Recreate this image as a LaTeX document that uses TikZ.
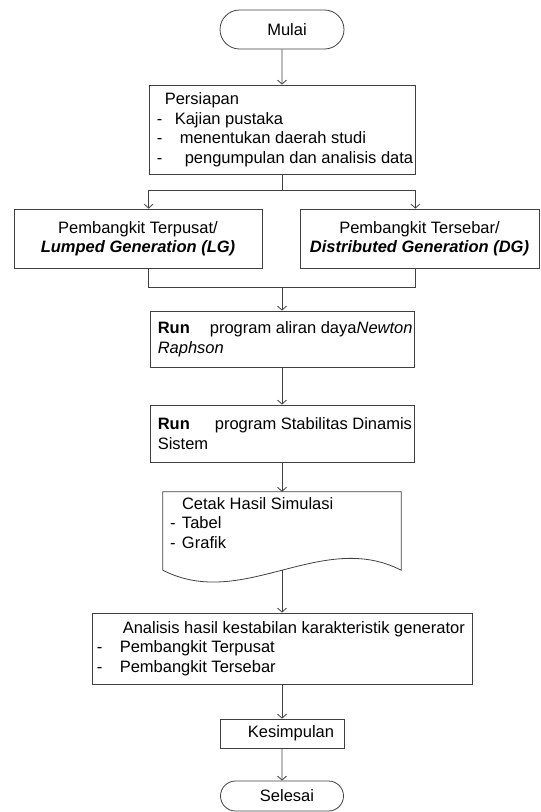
\documentclass[tikz,border=0pt]{standalone}
\usepackage{fontspec}
\setmainfont{Liberation Sans}
\usetikzlibrary{shapes.misc,arrows.meta,positioning,calc}
\tikzstyle{arrow} = [->,>={Straight Barb[length=4pt,width=9pt]},line width=0.8pt,black!75]
\tikzstyle{line} = [line width=0.8pt,black!75]

\begin{document}
\begin{tikzpicture}[x=1pt,y=-1pt,font=\fontsize{16.5}{19.5}\selectfont,
    termnode/.style={rounded rectangle,draw=black!75,line width=0.8pt,text=black,minimum width=124pt,minimum height=39pt,inner sep=0pt},
    procnode/.style={rectangle,draw=black!75,line width=0.8pt,text=black,inner sep=0pt},
    boxtext/.style={anchor=west,align=left,inner sep=0pt,text=black},]
        \useasboundingbox (0,0) rectangle (541,812);
        % (x,y) in px of the page, y goes down

        % start
        \node[termnode] (mulai) at (282,29.5) {\hspace{10pt}Mulai};

        % preparation
        \node[procnode,minimum width=266pt,minimum height=89pt] (prep) at (282,129.5) {};
        \node[boxtext] (preptext) at ([xshift=8pt]prep.west) {\hspace*{8pt}Persiapan\\\makebox[18pt][l]{-}Kajian pustaka\\\makebox[23pt][l]{-}menentukan daerah studi\\\makebox[28pt][l]{-}pengumpulan dan analisis data};

        % the two kinds of generation
        \node[procnode,minimum width=248pt,minimum height=59pt,align=center] (lg) at (138,238.5) {Pembangkit Terpusat/\\\textbf{\textit{Lumped Generation (LG)}}};
        \node[procnode,minimum width=239pt,minimum height=59pt,align=center] (dg) at (419.5,238.5) {Pembangkit Tersebar/\\\textbf{\textit{Distributed Generation (DG)}}};

        % load flow and stability runs
        \node[procnode,minimum width=264pt,minimum height=56pt] (run1) at (282,339) {};
        \node[boxtext] (run1text) at ([xshift=8pt]run1.west) {\textbf{Run}\hspace{20pt}program aliran daya\textit{Newton}\\\textit{Raphson}};
        \node[procnode,minimum width=264pt,minimum height=57pt] (run2) at (282,433.5) {};
        \node[boxtext] (run2text) at ([xshift=8pt]run2.west) {\textbf{Run}\hspace{25pt}program Stabilitas Dinamis\\Sistem};

        % printout (document shape)
        \node[minimum width=238pt,minimum height=78pt,inner sep=0pt] (cetak) at (282,531) {};
        \draw[line] (cetak.south west) -- (cetak.north west) -- (cetak.north east) -- (cetak.south east)
            .. controls ($(cetak.south east)+(-80,-41)$) and ($(cetak.south west)+(80,41)$) .. (cetak.south west);
        \node[boxtext,anchor=north west] (cetaktext) at ([xshift=7pt,yshift=-5.5pt]cetak.north west) {\hspace*{12pt}Cetak Hasil Simulasi\\\makebox[12pt][l]{-}Tabel\\\makebox[12pt][l]{-}Grafik};

        % analysis
        \node[procnode,minimum width=380pt,minimum height=71pt] (analisis) at (282,648.5) {};
        \node[boxtext] (analisistext) at ([xshift=5pt]analisis.west) {\hspace*{26pt}Analisis hasil kestabilan karakteristik generator\\\makebox[23pt][l]{-}Pembangkit Terpusat\\\makebox[23pt][l]{-}Pembangkit Tersebar};

        % conclusion and end
        \node[procnode,minimum width=124pt,minimum height=29pt] (kesimpulan) at (282,733.5) {\hspace{18pt}Kesimpulan};
        \node[termnode,minimum width=123pt,minimum height=30pt] (selesai) at (282,796) {\hspace{10pt}Selesai};

        % connectors
        \coordinate (split) at ($(prep.south)+(0,16)$);
        \coordinate (join) at (282,287);
        \draw[arrow] (mulai) -- (prep);
        \draw[line] (prep.south) -- (split);
        \draw[arrow] (split) -| (lg.north -| prep.west);
        \draw[arrow] (split) -| (dg.north -| prep.east);
        \draw[line] (lg.south -| prep.west) |- (join);
        \draw[line] (dg.south -| prep.east) |- (join);
        \draw[arrow] (join) -- (run1);
        \draw[arrow] (run1) -- (run2);
        \draw[arrow] (run2) -- (cetak);
        \draw[arrow] (cetak.south) -- (analisis);
        \draw[arrow] (analisis) -- (kesimpulan);
        \draw[arrow] (kesimpulan) -- (selesai);
\end{tikzpicture}
\end{document}
